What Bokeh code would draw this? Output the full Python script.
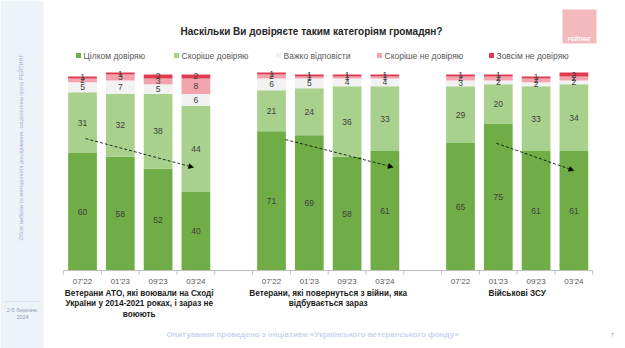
import math
from bokeh.plotting import figure
from bokeh.models import Range1d, ColumnDataSource, Arrow, NormalHead
from bokeh.core.properties import value
from bokeh.embed import file_html
from bokeh.resources import INLINE

# ---------------- data ----------------
periods = ["07'22", "01'23", "09'23", "03'24"]
groups = [
    "Ветерани АТО, які воювали на Сході\nУкраїни у 2014-2021 роках, і зараз не\nвоюють",
    "Ветерани, які повернуться з війни, яка\nвідбувається зараз",
    "Військові ЗСУ",
]
series = ["Цілком довіряю", "Скоріше довіряю", "Важко відповісти",
          "Скоріше не довіряю", "Зовсім не довіряю"]
fully_trust = [60, 58, 52, 40, 71, 69, 58, 61, 65, 75, 61, 61]
rather_trust = [31, 32, 38, 44, 21, 24, 36, 33, 29, 20, 33, 34]
hard_to_say = [5, 7, 5, 6, 6, 5, 4, 4, 3, 2, 2, 2]
rather_distrust = [2, 3, 3, 8, 2, 1, 1, 1, 2, 2, 2, 2]
not_trust = [1, 1, 2, 2, 1, 1, 1, 1, 1, 1, 1, 2]
# trend arrows (slot units, percent units): start/end
arrow_x0 = [0.08, 5.37, 10.95]
arrow_y0 = [67.3, 66.8, 64.9]
arrow_x1 = [2.94, 8.22, 13.0]
arrow_y1 = [52.6, 52.7, 51.0]

title_text = "Наскільки Ви довіряєте таким категоріям громадян?"
footer_text = "Опитування проведено з ініціативи «Українського ветеранського фонду»"
side_text = "Обсяг вибірки та методологія дослідження: соціологічна група РЕЙТИНГ"
date_text = "2-5 березня,\n2024"
page_no = "7"
logo_text = "РЕЙТИНГ"

colors = ["#70ad47", "#a9d18e", "#f2f2f2", "#f3a3ad", "#e03a50"]

# ---------------- layout helpers ----------------
W, H = 625, 348
X0PX, SLOT = 82.0, 37.8      # pixel x of slot 0, slot width
Y0PX, UNIT = 270.0, 1.96     # pixel y of value 0, px per percent


def X(px):
    return (px - X0PX) / SLOT


def Y(py):
    return (Y0PX - py) / UNIT


FONT = "Liberation Sans"

p = figure(width=W, height=H, output_backend="svg", toolbar_location=None,
           x_axis_location=None, y_axis_location=None, min_border=0,
           x_range=Range1d(X(0), X(W)), y_range=Range1d(Y(H), Y(0)),
           outline_line_color=None, background_fill_color="white",
           border_fill_color="white")
p.title = None
p.grid.grid_line_color = None
p.grid.visible = False

# sidebar
p.quad(left=[X(0)], right=[X(43)], bottom=[Y(H)], top=[Y(0)],
       fill_color="#eef2f9", line_color=None)
p.segment(x0=[X(4)], x1=[X(40)], y0=[Y(301)], y1=[Y(301)],
          line_color="#dbe2ee", line_width=1)
p.text(x=[X(20)], y=[Y(147)], text=[side_text], angle=math.pi / 2,
       text_font=value(FONT), text_font_size="5.5px", text_color="#9fb1d3",
       text_align="center", text_baseline="middle")
p.text(x=[X(22)], y=[Y(306)], text=[date_text], text_font=value(FONT),
       text_font_size="5.5px", text_color="#8f9db8", text_align="center",
       text_baseline="top", text_line_height=1.2)

# logo
p.quad(left=[X(562)], right=[X(596)], bottom=[Y(43)], top=[Y(9)],
       fill_color="#f4b9bc", line_color=None)
p.text(x=[X(579)], y=[Y(38)], text=[logo_text], text_font=value(FONT),
       text_font_size="5px", text_font_style="bold", text_color="white",
       text_align="center", text_baseline="middle")

# title
p.text(x=[X(311)], y=[Y(31)], text=[title_text], text_font=value(FONT),
       text_font_size="10px", text_font_style="bold", text_color="#262626",
       text_align="center", text_baseline="middle")

# legend
leg_x = [78, 176, 278, 379, 491]
p.scatter(x=[X(v) for v in leg_x], y=[Y(55)] * 5, marker="square", size=5,
          fill_color=colors, line_color=None)
p.text(x=[X(v + 5) for v in leg_x], y=[Y(55)] * 5, text=series,
       text_font=value(FONT), text_font_size="8.5px", text_color="#595959",
       text_align="left", text_baseline="middle")

# stacked bars
xs = []
for g in range(len(groups)):
    for i in range(len(periods)):
        xs.append(g * 5 + i)
keys = ["a", "b", "c", "d", "e"]
vals = [fully_trust, rather_trust, hard_to_say, rather_distrust, not_trust]
src = ColumnDataSource(dict(x=xs, **{k: v for k, v in zip(keys, vals)}))
p.vbar_stack(keys, x="x", width=0.76, color=colors, line_color=None, source=src)

# segment labels
lx, ly, lt = [], [], []
for j in range(len(xs)):
    base = 0
    for v in vals:
        lx.append(xs[j])
        ly.append(base + v[j] / 2)
        lt.append(str(v[j]))
        base += v[j]
p.text(x=lx, y=ly, text=lt, text_font=value(FONT), text_font_size="8.5px",
       text_color="#404040", text_align="center", text_baseline="middle")

# trend arrows
for a in range(len(arrow_x0)):
    p.add_layout(Arrow(x_start=arrow_x0[a], y_start=arrow_y0[a],
                       x_end=arrow_x1[a], y_end=arrow_y1[a],
                       line_color="black", line_width=0.8, line_dash="3 2",
                       end=NormalHead(size=5, fill_color="black",
                                      line_color="black", line_width=0.5)))

# x axis line and ticks
nslots = len(groups) * 5 - 1
p.segment(x0=[-0.5], x1=[nslots - 0.5], y0=[0], y1=[0],
          line_color="#bfbfbf", line_width=1)
bounds = [b - 0.5 for b in range(nslots + 1)]
p.segment(x0=bounds, x1=bounds, y0=[0] * len(bounds), y1=[Y(Y0PX + 4)] * len(bounds),
          line_color="#bfbfbf", line_width=1)
p.text(x=xs, y=[Y(281)] * len(xs), text=periods * len(groups),
       text_font=value(FONT), text_font_size="8px", text_color="#595959",
       text_align="center", text_baseline="middle")

# group labels
gx = [g * 5 + (len(periods) - 1) / 2 for g in range(len(groups))]
p.text(x=gx, y=[Y(288)] * len(groups), text=groups, text_font=value(FONT),
       text_font_size="8.2px", text_font_style="bold", text_color="#1a1a1a",
       text_align="center", text_baseline="top", text_line_height=1.2)

# footer
p.text(x=[X(312)], y=[Y(334)], text=[footer_text], text_font=value(FONT),
       text_font_size="8px", text_font_style="bold", text_color="#c9d6ee",
       text_align="center", text_baseline="middle")
p.text(x=[X(612)], y=[Y(334)], text=[page_no], text_font=value(FONT),
       text_font_size="6px", text_color="#9a9a9a",
       text_align="center", text_baseline="middle")

open("out.html", "w").write(file_html(p, INLINE))
